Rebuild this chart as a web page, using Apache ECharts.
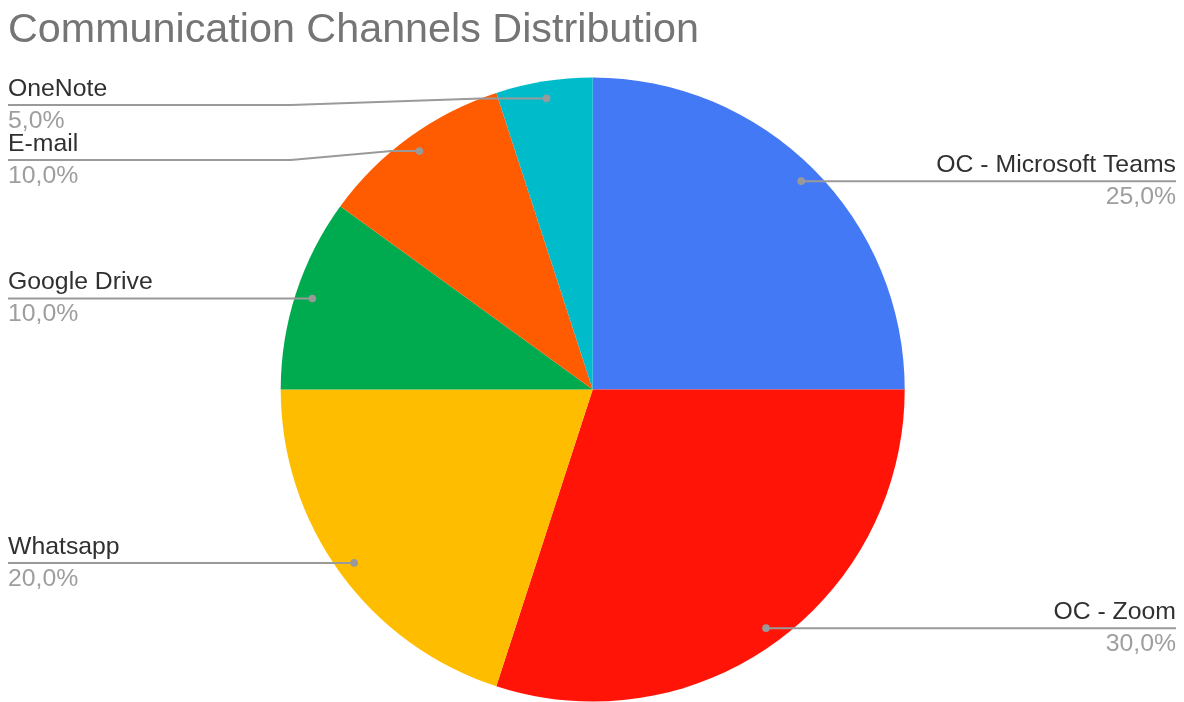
<!DOCTYPE html>
<html><head><meta charset="utf-8">
<script src="https://cdn.jsdelivr.net/npm/echarts@6/dist/echarts.min.js"></script>
<style>html,body{margin:0;padding:0;background:#fff}#c{width:1184px;height:702px}</style>
</head><body><div id="c"></div>
<script>
const categories = ['OC - Microsoft Teams', 'OC - Zoom', 'Whatsapp', 'Google Drive', 'E-mail', 'OneNote'];
const values = [25, 30, 20, 10, 10, 5];
const percentLabels = ['25,0%', '30,0%', '20,0%', '10,0%', '10,0%', '5,0%'];
const colors = ['#4479F5', '#FF1407', '#FFBD00', '#00AA4F', '#FF5B00', '#00BCCB'];

const FONT = '"Liberation Sans", Arial, Helvetica, sans-serif';
const DOT_R = 0.945;      // relative radius of label-line start dot
const MIN_LINE_Y = 105;   // top limit for label lines
const LABEL_GAP = 55;     // min vertical distance between labels on one side
const LEFT_X = 8, RIGHT_X = 1176;

const chart = echarts.init(document.getElementById('c'), null, {renderer: 'canvas'});

function seriesOpt(extra) {
  return Object.assign({
    type: 'pie',
    center: ['50.06%', '55.5%'],
    radius: 312,
    startAngle: 90,
    clockwise: true,
    silent: true,
    data: categories.map((n, i) => ({name: n, value: values[i], itemStyle: {color: colors[i]}})),
    label: {
      show: true, position: 'outside',
      formatter: p => '{n|' + p.name + '}\n{p|' + percentLabels[p.dataIndex] + '}',
      rich: {
        n: {fontFamily: FONT, fontSize: 24.8, color: '#303030', lineHeight: 32},
        p: {fontFamily: FONT, fontSize: 24.8, color: '#9e9e9e', lineHeight: 32}
      }
    },
    labelLine: {show: false},
    emphasis: {disabled: true}
  }, extra || {});
}

chart.setOption({
  animation: false,
  title: {
    text: 'Communication Channels Distribution', left: 8, top: 10, padding: 0,
    textStyle: {fontFamily: FONT, fontSize: 41.3, fontWeight: 'normal', color: '#757575'}
  },
  series: [seriesOpt()]
});

// Second pass: derive label line geometry from the library's own pie layout
const sData = chart.getModel().getSeriesByIndex(0).getData();
const info = values.map((v, i) => {
  const L = sData.getItemLayout(i);
  const m = (L.startAngle + L.endAngle) / 2;
  return {
    i: i, cx: L.cx, cy: L.cy, r: L.r,
    x: L.cx + DOT_R * L.r * Math.cos(m),
    y: L.cy + DOT_R * L.r * Math.sin(m),
    left: Math.cos(m) < 0
  };
});
[true, false].forEach(side => {
  const items = info.filter(d => d.left === side).sort((a, b) => a.y - b.y);
  let prev = -Infinity;
  items.forEach(d => {
    d.labelY = Math.max(d.y, prev + LABEL_GAP, MIN_LINE_Y);
    prev = d.labelY;
    const s = d.left ? -1 : 1;
    const edgeX = d.left ? LEFT_X : RIGHT_X;
    if (Math.abs(d.labelY - d.y) < 0.5) {
      d.points = [[d.x, d.y], [edgeX, d.y]];
    } else {
      const dy = d.y - d.cy;
      const crossX = d.cx + s * Math.sqrt(Math.max(0, d.r * d.r - dy * dy));
      const kinkX = d.cx + s * (d.r - 10);
      d.points = [[d.x, d.y], [crossX, d.y], [kinkX, d.labelY], [edgeX, d.labelY]];
    }
  });
});

const guideLines = info.map(d => ({
  type: 'polyline', shape: {points: d.points},
  style: {stroke: '#9a9a9a', lineWidth: 2, fill: null}, z: 99, silent: true
}));
const guideDots = info.map(d => ({
  type: 'circle', shape: {cx: d.x, cy: d.y, r: 3.8},
  style: {fill: '#999999'}, z: 100, silent: true
}));

chart.setOption({
  graphic: guideLines.concat(guideDots),
  series: [seriesOpt({
    labelLayout: p => {
      const d = info[p.dataIndex];
      return {
        x: d.left ? LEFT_X : RIGHT_X,
        y: d.labelY,
        align: d.left ? 'left' : 'right',
        verticalAlign: 'middle'
      };
    }
  })]
});
</script>
</body></html>
